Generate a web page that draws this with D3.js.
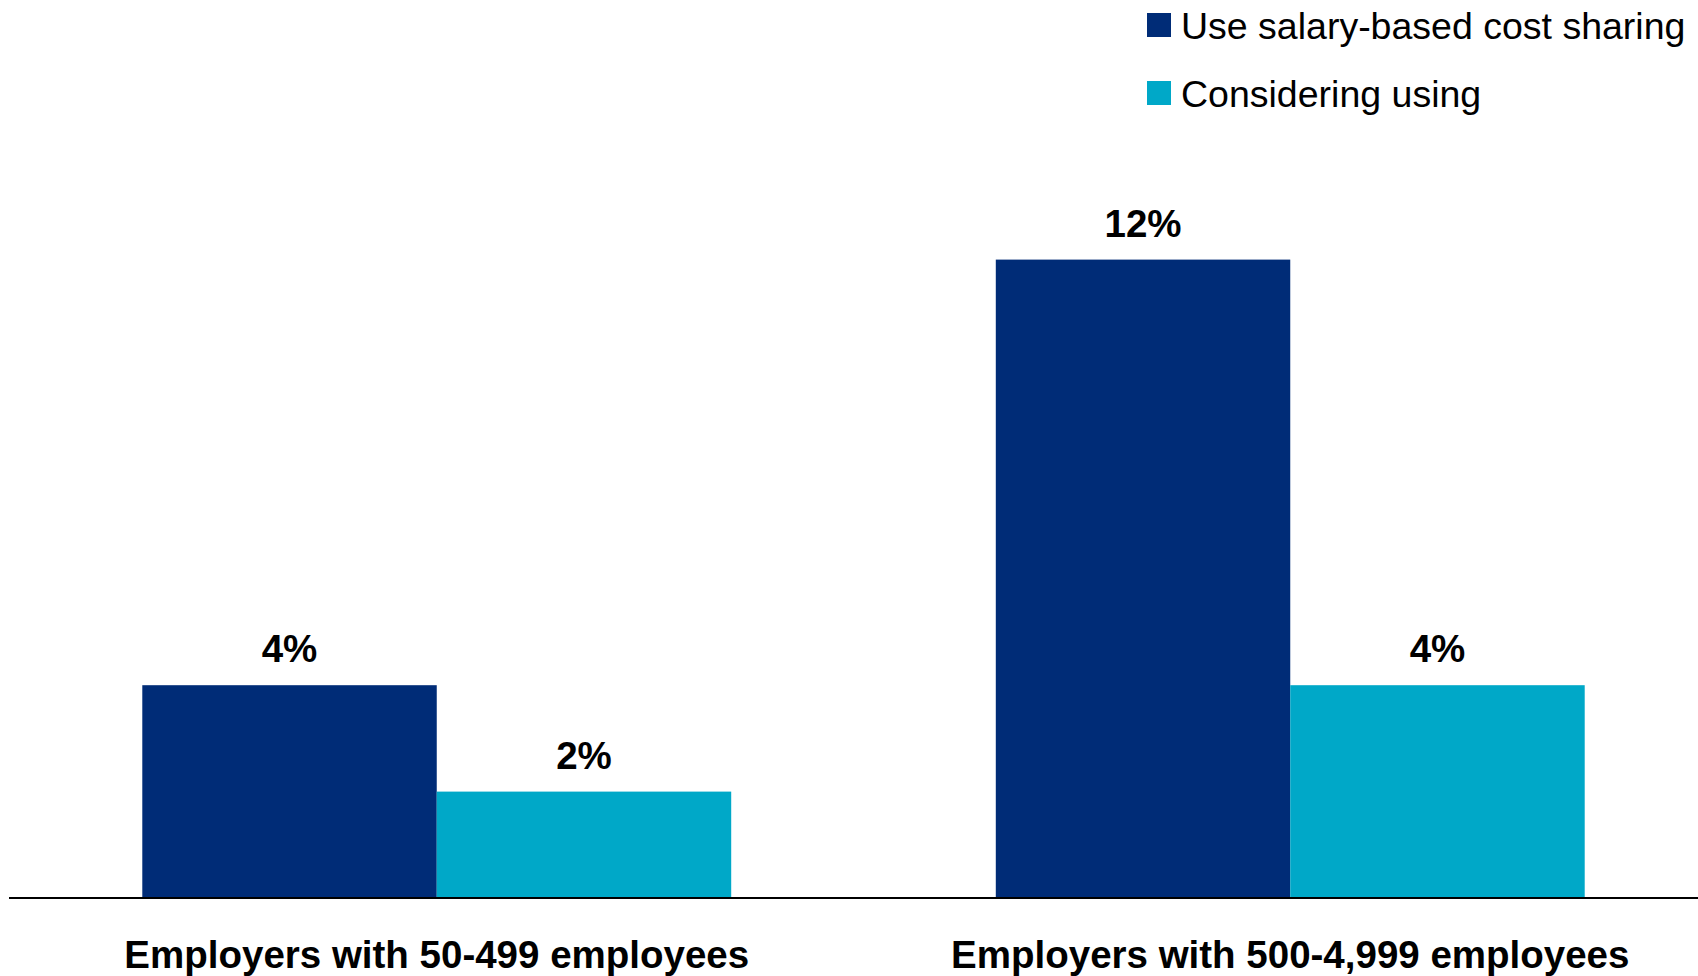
<!DOCTYPE html>
<html>
<head>
<meta charset="utf-8">
<script src="https://cdn.jsdelivr.net/npm/d3@7"></script>
<style>
  html, body { margin: 0; padding: 0; background: #fff; }
  svg { display: block; font-family: "Liberation Sans", Arial, sans-serif; }
</style>
</head>
<body>
<svg id="chart" width="1698" height="976"></svg>
<script>
// Share of employers using / considering salary-based cost sharing
const categories = ["Employers with 50-499 employees", "Employers with 500-4,999 employees"];
const seriesNames = ["Use salary-based cost sharing", "Considering using"];
const useValues = [4, 12];
const consideringValues = [2, 4];
const seriesColors = ["#002C77", "#00A8C8"];

const rows = categories.map((c, i) => ({
  category: c,
  values: [
    { series: seriesNames[0], value: useValues[i] },
    { series: seriesNames[1], value: consideringValues[i] }
  ]
}));

const svg = d3.select("#chart");
const baseline = 898;

const x0 = d3.scaleBand()
  .domain(categories)
  .range([10, 1717])
  .paddingInner(0.31)
  .paddingOuter(0.155);

const x1 = d3.scaleBand()
  .domain(seriesNames)
  .range([0, x0.bandwidth()])
  .padding(0);

const y = d3.scaleLinear()
  .domain([0, 14])
  .range([baseline, baseline - 14 * 53.2]);

const color = d3.scaleOrdinal().domain(seriesNames).range(seriesColors);

// Bars and value labels
const groups = svg.append("g").selectAll("g")
  .data(rows)
  .join("g")
  .attr("transform", d => `translate(${x0(d.category)},0)`);

groups.selectAll("rect")
  .data(d => d.values)
  .join("rect")
  .attr("x", d => x1(d.series))
  .attr("y", d => y(d.value))
  .attr("width", x1.bandwidth())
  .attr("height", d => y(0) - y(d.value))
  .attr("fill", d => color(d.series));

groups.selectAll("text.value")
  .data(d => d.values)
  .join("text")
  .attr("class", "value")
  .attr("x", d => x1(d.series) + x1.bandwidth() / 2)
  .attr("y", d => y(d.value) - 23)
  .attr("text-anchor", "middle")
  .attr("font-size", 38.5)
  .attr("font-weight", "bold")
  .attr("fill", "#000")
  .text(d => d.value + "%");

// Category axis
const axis = svg.append("g")
  .attr("transform", `translate(0,${baseline})`)
  .call(d3.axisBottom(x0).tickSize(0).tickSizeOuter(0));

axis.select(".domain")
  .attr("d", "M9,0H1698")
  .attr("stroke", "#000")
  .attr("stroke-width", 2);

axis.selectAll(".tick text")
  .attr("y", 70)
  .attr("dy", 0)
  .attr("font-size", 38.5)
  .attr("font-weight", "bold")
  .attr("font-family", "Liberation Sans, Arial, sans-serif")
  .attr("fill", "#000");

// Legend
const legend = svg.append("g")
  .selectAll("g")
  .data(seriesNames)
  .join("g")
  .attr("transform", (d, i) => `translate(1147,${13 + i * 68})`);

legend.append("rect")
  .attr("width", 24)
  .attr("height", 24)
  .attr("fill", d => color(d));

legend.append("text")
  .attr("x", 34)
  .attr("y", 26)
  .attr("font-size", 37.5)
  .attr("fill", "#000")
  .text(d => d);
</script>
</body>
</html>
